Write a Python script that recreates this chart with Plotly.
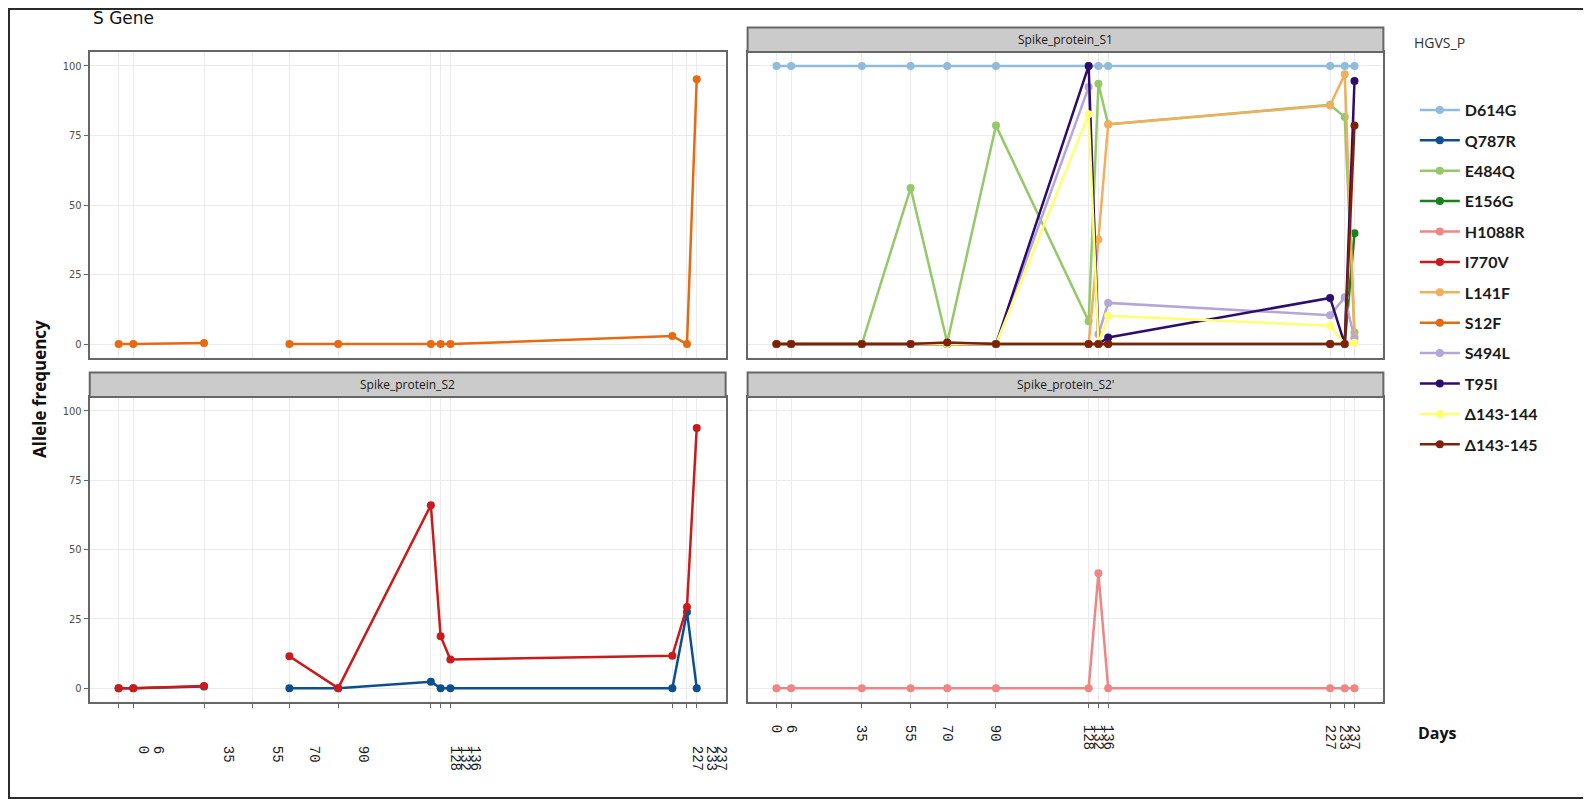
import plotly.graph_objects as go

# ---------------- data ----------------
days = [0, 6, 35, 55, 70, 90, 128, 132, 136, 227, 233, 237]
day_labels = ["0", "6", "35", "55", "70", "90", "128", "132", "136", "227", "233", "237"]
y_ticks = [0, 25, 50, 75, 100]

D614G = [100, 100, 100, 100, 100, 100, 100, 100, 100, 100, 100, 100]
Q787R = [0, 0, 0.6, None, 0, 0, 2.3, 0, 0, 0, 27.5, 0]
E484Q = [0, 0, 0, 56.1, 0.6, 78.6, 8.2, 93.6, 79, 86, 81.6, 4.2]
E156G = [0, 0, 0, 0, 0, 0, 0, 0, 0, 0, 0, 39.8]
H1088R = [0, 0, 0, 0, 0, 0, 0, 41.4, 0, 0, 0, 0]
I770V = [0, 0, 0.8, None, 11.5, 0, 66, 18.7, 10.3, 11.7, 29.3, 93.8]
L141F = [0, 0, 0, 0, 0, 0, 0, 37.6, 79, 85.8, 97, 2.6]
S12F = [0, 0, 0.4, None, 0, 0, 0, 0, 0, 2.9, 0, 95.2]
S494L = [0, 0, 0, 0, 0, 0, 92.4, 3.5, 14.8, 10.4, 16.8, 2]
T95I = [0, 0, 0, 0, 0, 0, 100, 0, 2.4, 16.6, 0, 94.6]
D143_144 = [0, 0, 0, 0, 0, 0, 82.6, 0, 10.2, 6.6, 0, 0.5]
D143_145 = [0, 0, 0, 0, 0.6, 0, 0, 0, 0, 0, 0, 78.6]

# name, values, colour, panel (1=top-left, 2=S1, 3=S2, 4=S2')
series = [
    ("D614G", D614G, "#8FBCDB", 2),
    ("Q787R", Q787R, "#0C4F8E", 3),
    ("E484Q", E484Q, "#93C966", 2),
    ("E156G", E156G, "#17821C", 2),
    ("H1088R", H1088R, "#EE8686", 4),
    ("I770V", I770V, "#CC1A1A", 3),
    ("L141F", L141F, "#F2AE5C", 2),
    ("S12F", S12F, "#E66A12", 1),
    ("S494L", S494L, "#B4A6D6", 2),
    ("T95I", T95I, "#2E0C6E", 2),
    ("\u0394143-144", D143_144, "#FFFF70", 2),
    ("\u0394143-145", D143_145, "#80200A", 2),
]

OFF = 8  # page body margin
W, H = 1591 - OFF, 799 - OFF

def px(x):
    return (x - OFF) / W

def py(y):
    return 1 - (y - OFF) / H

fig = go.Figure()
for name, vals, col, p in series:
    fig.add_trace(go.Scatter(
        x=days, y=vals, name=name, legendgroup=name,
        mode="lines+markers",
        line=dict(color=col, width=2.5),
        marker=dict(color=col, size=8),
        xaxis="x" if p == 1 else f"x{p}",
        yaxis="y" if p == 1 else f"y{p}",
    ))

xl = [px(89.9), px(727)]
xr = [px(749), px(1386)]
yt = [py(358), py(52)]
yb = [py(702), py(397)]
xrange = [-11.85, 248.85]
yrange = [-5, 105]

grid = "#ebebeb"
frame = "#666666"

def xax(dom, anchor, labels, shift=0, standoff=0):
    d = dict(domain=dom, anchor=anchor, range=xrange, tickmode="array",
             tickvals=days, ticktext=day_labels, showgrid=True, gridcolor=grid,
             gridwidth=1, zeroline=False, showline=True, mirror=True,
             linecolor=frame, linewidth=2)
    if labels:
        d.update(ticks="outside", ticklen=4, tickcolor=frame, tickwidth=1,
                 showticklabels=True, tickangle=90,
                 tickfont=dict(family="Liberation Mono, DejaVu Sans Mono", size=14, color="#1a1a1a"),
                 ticklabelshift=shift, ticklabelstandoff=standoff)
    else:
        d.update(ticks="", showticklabels=False)
    return d

def yax(dom, anchor, labels):
    d = dict(domain=dom, anchor=anchor, range=yrange, tickmode="array",
             tickvals=y_ticks, showgrid=True, gridcolor=grid, gridwidth=1,
             zeroline=False, showline=True, mirror=True, linecolor=frame,
             linewidth=2)
    if labels:
        d.update(ticks="outside", ticklen=4, tickcolor=frame, tickwidth=1,
                 showticklabels=True,
                 tickfont=dict(family="DejaVu Sans Condensed, Liberation Sans Narrow, DejaVu Sans",
                               size=11, color="#4d4d4d"))
    else:
        d.update(ticks="", showticklabels=False)
    return d

fig.update_layout(
    width=W, height=H,
    margin=dict(l=0, r=0, t=0, b=0),
    paper_bgcolor="white", plot_bgcolor="white",
    xaxis=xax(xl, "y", False),
    yaxis=yax(yt, "x", True),
    xaxis2=xax(xr, "y2", False),
    yaxis2=yax(yt, "x2", False),
    xaxis3=xax(xl, "y3", True, shift=25, standoff=35),
    yaxis3=yax(yb, "x3", True),
    xaxis4=xax(xr, "y4", True, standoff=14),
    yaxis4=yax(yb, "x4", False),
    showlegend=True,
    legend=dict(x=px(1417.5), xanchor="left", y=py(93), yanchor="top",
                font=dict(family="Lato, Open Sans", size=16, color="#1a1a1a", weight="bold"),
                tracegroupgap=6.6, itemwidth=40, bgcolor="rgba(0,0,0,0)",
                traceorder="grouped"),
)

shapes = []
annotations = []
strips = [("x2", "y2", "Spike_protein_S1"), ("x3", "y3", "Spike_protein_S2"),
          ("x4", "y4", "Spike_protein_S2'")]
for xa, ya, label in strips:
    shapes.append(dict(type="rect", xref=f"{xa} domain", yref=f"{ya} domain",
                       x0=0, x1=1, y0=1.0, y1=1.08, fillcolor="#cbcbcb",
                       line=dict(color=frame, width=2), layer="above"))
    annotations.append(dict(xref=f"{xa} domain", yref=f"{ya} domain", x=0.5, y=1.04,
                            text=label, showarrow=False,
                            font=dict(family="Open Sans", size=12, color="#1a1a1a"),
                            xanchor="center", yanchor="middle"))

# outer frame
shapes.append(dict(type="rect", xref="paper", yref="paper", x0=0, x1=1, y0=0, y1=1,
                   line=dict(color="#2b2b2b", width=4), fillcolor="rgba(0,0,0,0)"))

annotations += [
    dict(xref="paper", yref="paper", x=px(91), y=py(18), text="S Gene",
         showarrow=False, xanchor="left", yanchor="middle",
         font=dict(family="DejaVu Sans", size=17, color="#111111")),
    dict(xref="paper", yref="paper", x=px(1415), y=py(42), text="HGVS_P",
         showarrow=False, xanchor="left", yanchor="middle",
         font=dict(family="Open Sans", size=14, color="#333333")),
    dict(xref="paper", yref="paper", x=px(39), y=py(389), text="<b>Allele frequency</b>",
         showarrow=False, xanchor="center", yanchor="middle", textangle=-90,
         font=dict(family="Open Sans", size=17, color="#111111")),
    dict(xref="paper", yref="paper", x=px(1440), y=py(733), text="<b>Days</b>",
         showarrow=False, xanchor="center", yanchor="middle",
         font=dict(family="Open Sans", size=16, color="#111111")),
]
fig.update_layout(shapes=shapes, annotations=annotations)

fig.write_html("out.html")
